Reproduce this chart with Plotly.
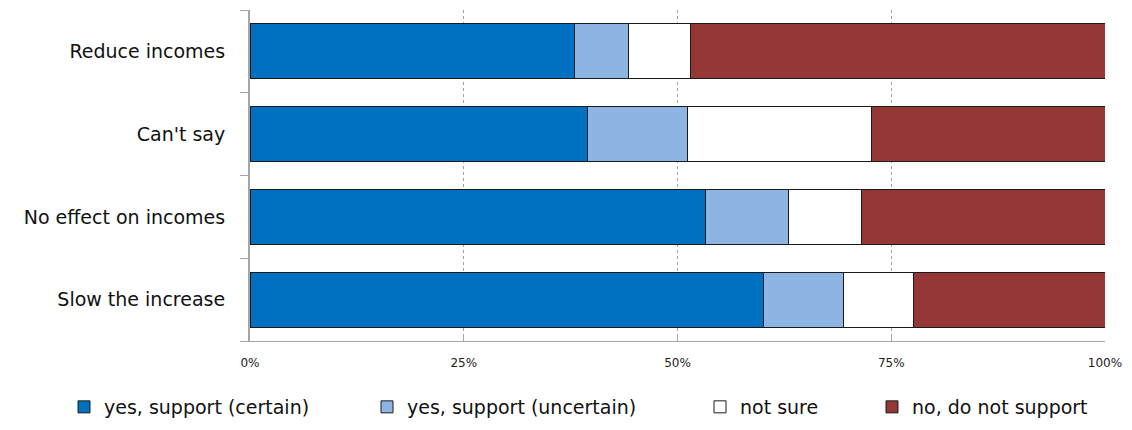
import plotly.graph_objects as go

# Survey response shares (%) by expected effect on incomes
categories = ["Reduce incomes", "Can't say", "No effect on incomes", "Slow the increase"]
yes_certain = [37.9, 39.5, 53.3, 60.0]
yes_uncertain = [6.4, 11.7, 9.7, 9.4]
not_sure = [7.2, 21.5, 8.5, 8.2]
no_support = [48.5, 27.3, 28.5, 22.4]

tick_vals = [0, 25, 50, 75, 100]
tick_text = ["0%", "25%", "50%", "75%", "100%"]

series = [
    ("yes, support (certain)", yes_certain, "#0070C0", "legend"),
    ("yes, support (uncertain)", yes_uncertain, "#8EB4E3", "legend2"),
    ("not sure", not_sure, "#FFFFFF", "legend3"),
    ("no, do not support", no_support, "#953735", "legend4"),
]

FONT = "DejaVu Sans"

fig = go.Figure()
for name, vals, color, leg in series:
    fig.add_trace(go.Bar(
        y=categories, x=vals, name=name, orientation="h",
        marker=dict(color=color, line=dict(color="#1a1a1a", width=1)),
        legend=leg, hoverinfo="x+name",
    ))

W, H = 1132, 430
legend_text_x = [106, 409, 742, 914]
legend_common = dict(
    orientation="h", xref="container", yref="container",
    yanchor="middle", y=1 - 407 / H, xanchor="left",
    font=dict(family=FONT, size=19, color="#111111"),
    bgcolor="rgba(0,0,0,0)", itemwidth=30, tracegroupgap=0,
)
legends = {}
for i, tx in enumerate(legend_text_x):
    key = "legend" if i == 0 else f"legend{i + 1}"
    legends[key] = dict(legend_common, x=(tx - 42) / W)

fig.update_layout(
    width=W, height=H,
    barmode="stack", bargap=0.337,
    plot_bgcolor="white", paper_bgcolor="white",
    margin=dict(l=250, r=20, t=10, b=89),
    showlegend=True,
    xaxis=dict(
        range=[0, 100], tickvals=tick_vals, ticktext=tick_text,
        showgrid=True, gridcolor="#a0a0a0", griddash="dot", gridwidth=1,
        showline=True, linecolor="#a6a6a6", linewidth=1,
        ticks="inside", ticklen=5, tickcolor="#a6a6a6",
        tickfont=dict(family=FONT, size=12, color="#222222"),
        ticklabelstandoff=11, zeroline=False, fixedrange=True,
    ),
    yaxis=dict(
        categoryorder="array", categoryarray=categories[::-1],
        showline=True, linecolor="#a6a6a6", linewidth=2,
        ticks="outside", ticklen=8, tickcolor="#a6a6a6", tickson="boundaries",
        tickfont=dict(family=FONT, size=19, color="#111111"),
        ticklabelstandoff=19, showgrid=False, fixedrange=True,
    ),
    **legends,
)

fig.write_html("out.html")
